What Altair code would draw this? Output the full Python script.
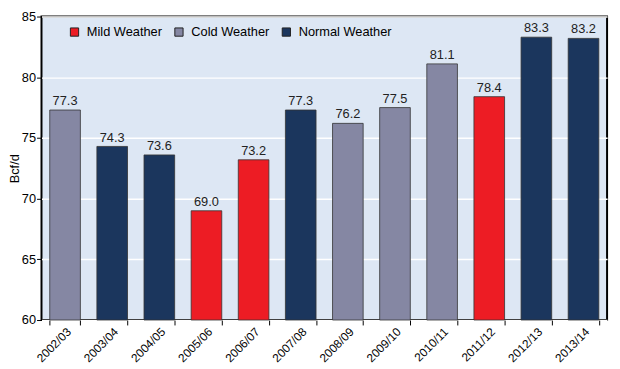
import altair as alt
import pandas as pd

years = ["2002/03", "2003/04", "2004/05", "2005/06", "2006/07", "2007/08",
         "2008/09", "2009/10", "2010/11", "2011/12", "2012/13", "2013/14"]
values = [77.3, 74.3, 73.6, 69.0, 73.2, 77.3, 76.2, 77.5, 81.1, 78.4, 83.3, 83.2]
weather = ["Cold Weather", "Normal Weather", "Normal Weather", "Mild Weather", "Mild Weather",
           "Normal Weather", "Cold Weather", "Cold Weather", "Cold Weather", "Mild Weather",
           "Normal Weather", "Normal Weather"]
categories = ["Mild Weather", "Cold Weather", "Normal Weather"]
colors = ["#ed1c24", "#8587a3", "#1b365d"]

df = pd.DataFrame({"year": years, "value": values, "weather": weather})

FONT = "Liberation Sans"

x = alt.X("year:N", sort=years, title=None,
          scale=alt.Scale(paddingInner=0.35, paddingOuter=0.175),
          axis=alt.Axis(labelAngle=-45, labelFontSize=12, labelColor="black",
                        tickBand="extent", tickColor="black", tickSize=5,
                        domain=False, grid=False, labelPadding=1))
y = alt.Y("value:Q", title="Bcf/d",
          scale=alt.Scale(domain=[60, 85], zero=False, nice=False),
          axis=alt.Axis(values=[60, 65, 70, 75, 80, 85], labelFontSize=13,
                        labelColor="black", tickColor="black", tickSize=5,
                        domain=False, grid=True, gridColor="white", gridWidth=1.5,
                        titleFontSize=13, titleFontWeight="normal", titleColor="black",
                        titlePadding=0, labelPadding=1))

bars = alt.Chart(df).mark_bar(stroke="#333333", strokeWidth=0.8).encode(
    x=x,
    y=y,
    y2=alt.datum(60),
    color=alt.Color("weather:N", title=None,
                    scale=alt.Scale(domain=categories, range=colors),
                    legend=alt.Legend(orient="none", legendX=27, legendY=9,
                                      direction="horizontal", symbolType="square",
                                      symbolSize=70, symbolStrokeColor="#222222",
                                      symbolStrokeWidth=1, labelFontSize=13,
                                      labelColor="black", columnPadding=10,
                                      labelOffset=6)),
)

labels = alt.Chart(df).mark_text(dy=-9, fontSize=13, color="#222222", font=FONT).encode(
    x=alt.X("year:N", sort=years),
    y=alt.Y("value:Q"),
    text=alt.Text("value:Q", format=".1f"),
)

chart = (bars + labels).properties(
    width=574, height=308, padding={"left": 0, "top": 0, "right": 5, "bottom": 0}
).configure(font=FONT).configure_view(
    fill="#dde7f4", stroke="black", strokeWidth=2
)

chart.save("out.html", embed_options={"renderer": "svg", "actions": False})
